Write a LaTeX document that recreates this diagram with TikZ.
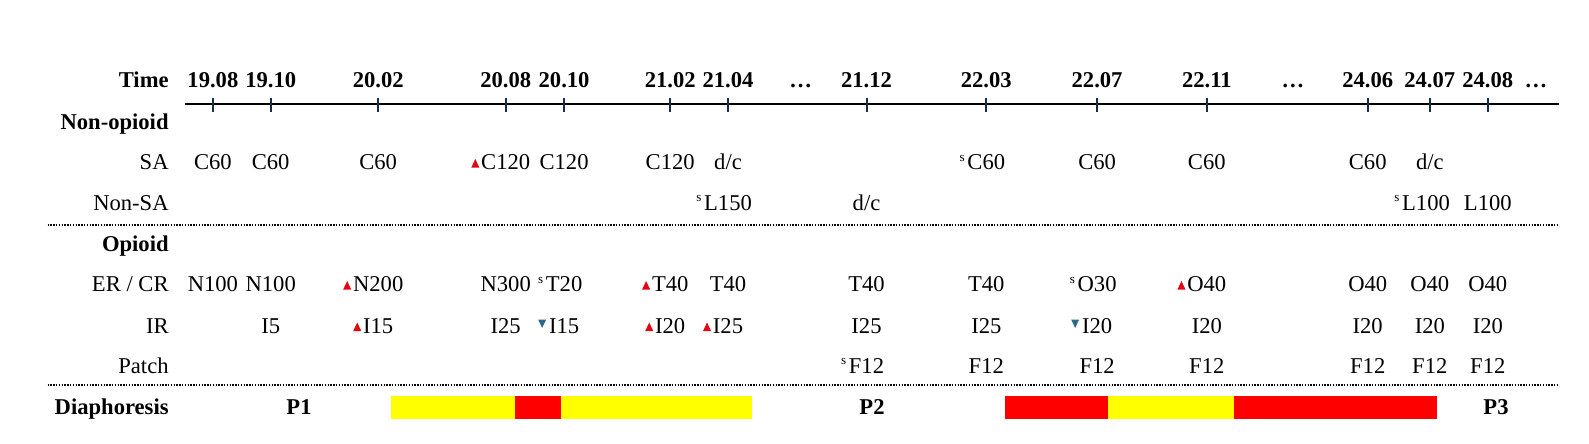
\documentclass[tikz,border=0pt]{standalone}
\usepackage{fontspec}
\setmainfont{Liberation Serif}
\usetikzlibrary{calc}
\definecolor{upred}{HTML}{E30613}
\definecolor{dnblue}{HTML}{2B6A8A}
\definecolor{tickc}{HTML}{1C2B45}
\definecolor{baryel}{HTML}{FFFF00}
\definecolor{barred}{HTML}{FF0000}
\tikzset{
  cell/.style={anchor=base, inner sep=0pt},
  lab/.style={anchor=base east, inner sep=0pt},
  blab/.style={anchor=base east, inner sep=0pt, font=\fontsize{11.3pt}{13pt}\selectfont\bfseries},
  tlab/.style={anchor=base, inner sep=0pt, font=\fontsize{11.3pt}{13pt}\selectfont\bfseries},
  sups/.style={anchor=north east, inner sep=0pt, font=\fontsize{6.5pt}{7pt}\selectfont},
  tickline/.style={draw=tickc, line width=1pt},
  axis/.style={draw=black, line width=1pt},
  sepline/.style={draw=black, line width=0.9pt, dash pattern=on 0.7pt off 0.7pt},
}
\newcommand\dcell[4]{\node[cell] (#1) at (#2,#3) {#4};}
\newcommand\upcell[4]{\dcell{#1}{#2}{#3}{#4}%
  \fill[upred] ($(#1.base west)+(-1.5,-2)$) -- ++(-8,0) -- ++(4,-8.5) -- cycle;}
\newcommand\dncell[4]{\dcell{#1}{#2}{#3}{#4}%
  \fill[dnblue] ($(#1.base west)+(-2.5,-13.5)$) -- ++(-8,0) -- ++(4,8.5) -- cycle;}
\newcommand\scell[4]{\dcell{#1}{#2}{#3}{#4}%
  \node[sups] (#1s) at ($(#1.base west)+(-2,-14.8)$) {s};}
\begin{document}
\begin{tikzpicture}[x=0.5pt, y=-0.5pt, font=\fontsize{11.3pt}{13pt}\selectfont]
\useasboundingbox (0,0) rectangle (1589,444);
% row labels
\node[blab] (lTime) at (169,87.5) {Time};
\node[blab] (lNon) at (169,129) {Non-opioid};
\node[lab] (lSA) at (169,169.5) {SA};
\node[lab] (lNSA) at (169,210) {Non-SA};
\node[blab] (lOp) at (169,251.5) {Opioid};
\node[lab] (lER) at (169,291.5) {ER / CR};
\node[lab] (lIR) at (169,333) {IR};
\node[lab] (lPa) at (169,373) {Patch};
\node[blab] (lDi) at (169,414) {Diaphoresis};
% axis
\coordinate (axL) at (185,104);
\coordinate (axR) at (1558.5,104);
\draw[axis] (axL) -- (axR);
\foreach \n/\x/\t in {1/212.9/19.08, 2/270.7/19.10, 3/378.2/20.02, 4/505.7/20.08, 5/564.1/20.10, 6/670.2/21.02, 7/728/21.04, 8/866.5/21.12, 9/986.3/22.03, 10/1097.1/22.07, 11/1206.8/22.11, 12/1367.7/24.06, 13/1429.8/24.07, 14/1487.8/24.08}{
  \coordinate (tkA\n) at (\x,98);
  \coordinate (tkB\n) at (\x,112);
  \draw[tickline] (tkA\n) -- (tkB\n);
  \node[tlab] (tm\n) at (\x,87.5) {\t};
}
\node[tlab] (dots1) at (800.7,87.5) {…};
\node[tlab] (dots2) at (1292.8,87.5) {…};
\node[tlab] (dots3) at (1536,87.5) {…};
% separators
\coordinate (s1L) at (47.5,225); \coordinate (s1R) at (1557,225);
\coordinate (s2L) at (47.5,385); \coordinate (s2R) at (1557,385);
\draw[sepline] (s1L) -- (s1R);
\draw[sepline] (s2L) -- (s2R);
% SA row
\dcell{sa1}{212.9}{169.5}{C60}
\dcell{sa2}{270.7}{169.5}{C60}
\dcell{sa3}{378.2}{169.5}{C60}
\upcell{sa4}{505.7}{169.5}{C120}
\dcell{sa5}{564.1}{169.5}{C120}
\dcell{sa6}{670.2}{169.5}{C120}
\dcell{sa7}{728}{169.5}{d/c}
\scell{sa9}{986.3}{169.5}{C60}
\dcell{sa10}{1097.1}{169.5}{C60}
\dcell{sa11}{1206.8}{169.5}{C60}
\dcell{sa12}{1367.7}{169.5}{C60}
\dcell{sa13}{1429.8}{169.5}{d/c}
% Non-SA row
\scell{ns7}{728}{210}{L150}
\dcell{ns8}{866.5}{210}{d/c}
\scell{ns13}{1426}{210}{L100}
\dcell{ns14}{1487.8}{210}{L100}
% ER/CR row
\dcell{er1}{212.9}{291.5}{N100}
\dcell{er2}{270.7}{291.5}{N100}
\upcell{er3}{378.2}{291.5}{N200}
\dcell{er4}{505.7}{291.5}{N300}
\scell{er5}{564.1}{291.5}{T20}
\upcell{er6}{670.2}{291.5}{T40}
\dcell{er7}{728}{291.5}{T40}
\dcell{er8}{866.5}{291.5}{T40}
\dcell{er9}{986.3}{291.5}{T40}
\scell{er10}{1097.1}{291.5}{O30}
\upcell{er11}{1206.8}{291.5}{O40}
\dcell{er12}{1367.7}{291.5}{O40}
\dcell{er13}{1429.8}{291.5}{O40}
\dcell{er14}{1487.8}{291.5}{O40}
% IR row
\dcell{ir2}{270.7}{333}{I5}
\upcell{ir3}{378.2}{333}{I15}
\dcell{ir4}{505.7}{333}{I25}
\dncell{ir5}{564.1}{333}{I15}
\upcell{ir6}{670.2}{333}{I20}
\upcell{ir7}{728}{333}{I25}
\dcell{ir8}{866.5}{333}{I25}
\dcell{ir9}{986.3}{333}{I25}
\dncell{ir10}{1097.1}{333}{I20}
\dcell{ir11}{1206.8}{333}{I20}
\dcell{ir12}{1367.7}{333}{I20}
\dcell{ir13}{1429.8}{333}{I20}
\dcell{ir14}{1487.8}{333}{I20}
% Patch row
\scell{pa8}{866.5}{373}{F12}
\dcell{pa9}{986.3}{373}{F12}
\dcell{pa10}{1097.1}{373}{F12}
\dcell{pa11}{1206.8}{373}{F12}
\dcell{pa12}{1367.7}{373}{F12}
\dcell{pa13}{1429.8}{373}{F12}
\dcell{pa14}{1487.8}{373}{F12}
% Diaphoresis
\node[tlab] (p1) at (299,414) {P1};
\node[tlab] (p2) at (872,414) {P2};
\node[tlab] (p3) at (1496,414) {P3};
\fill[baryel] (391,396) rectangle (514.6,419);
\fill[barred] (514.6,396) rectangle (560.5,419);
\fill[baryel] (560.5,396) rectangle (751.5,419);
\fill[barred] (1004.5,396) rectangle (1108,419);
\fill[baryel] (1108,396) rectangle (1233.5,419);
\fill[barred] (1233.5,396) rectangle (1437,419);
\end{tikzpicture}
\end{document}
